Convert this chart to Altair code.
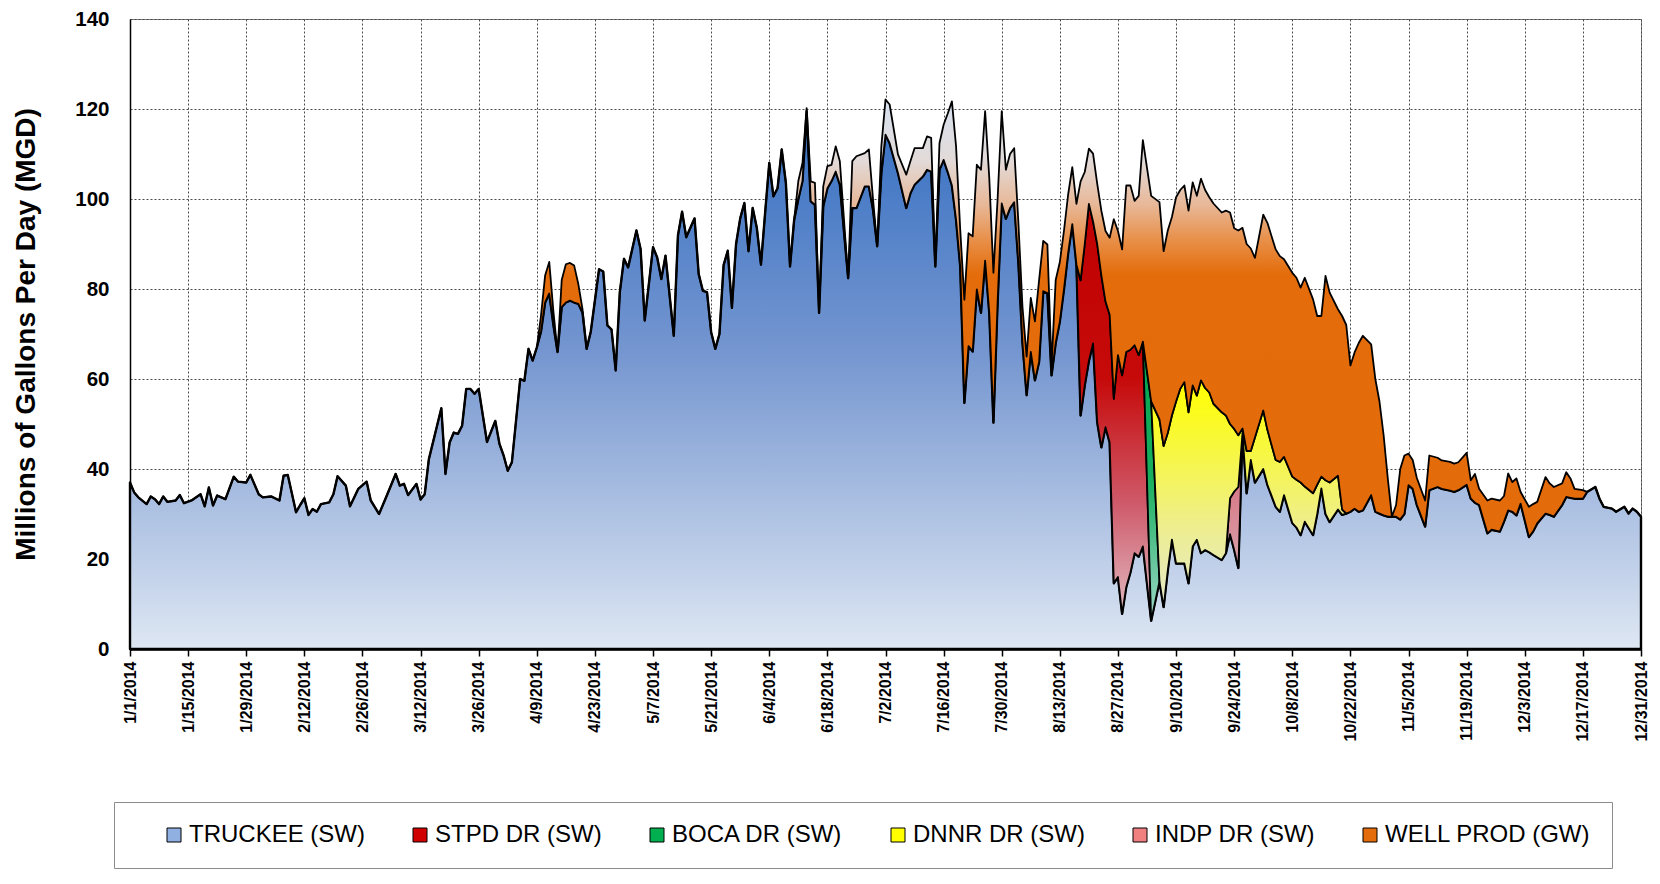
import pandas as pd
import altair as alt

# ---------------- data (day offset from 2014-01-01, values in MGD) ----------------
days = [0, 1, 2, 4, 5, 6, 7, 8, 9, 11, 12, 13, 15, 17, 18, 19, 20, 21, 23, 25, 26, 28, 29, 31, 32, 34, 36, 37, 38,
        40, 41, 42, 43, 44, 45, 46, 48, 49, 50, 52, 53, 55, 57, 58, 60, 62, 64, 65, 66, 67, 69, 70, 71, 72, 75, 76,
        77, 78, 79, 80, 81, 82, 83, 84, 86, 88, 89, 90, 91, 92, 94, 95, 96, 97, 98, 99, 100, 101, 102, 103, 104,
        105, 106, 107, 108, 109, 110, 111, 113, 114, 115, 116, 117, 118, 119, 120, 122, 123, 124, 126, 127, 128,
        129, 131, 132, 133, 134, 136, 137, 138, 139, 140, 141, 142, 143, 144, 145, 146, 147, 148, 149, 150, 151,
        152, 153, 154, 155, 156, 157, 158, 159, 160, 161, 162, 163, 164, 165, 166, 167, 168, 169, 170, 171, 173,
        174, 175, 177, 178, 179, 180, 181, 182, 183, 185, 187, 188, 189, 191, 192, 193, 194, 195, 196, 197, 198,
        199, 200, 201, 202, 203, 204, 205, 206, 207, 208, 209, 210, 211, 212, 213, 214, 215, 216, 217, 218, 219,
        220, 221, 222, 223, 224, 225, 226, 227, 228, 229, 230, 231, 232, 233, 234, 235, 236, 237, 238, 239, 240,
        241, 242, 243, 244, 246, 248, 249, 250, 251, 252, 253, 254, 255, 256, 257, 258, 259, 260, 261, 263, 264,
        265, 266, 267, 268, 269, 270, 271, 273, 274, 276, 277, 278, 280, 281, 282, 283, 285, 286, 287, 288, 289,
        291, 292, 293, 294, 295, 296, 297, 299, 300, 301, 302, 303, 304, 305, 306, 307, 308, 309, 310, 312, 313,
        315, 316, 318, 319, 320, 322, 323, 324, 325, 327, 328, 330, 331, 332, 333, 334, 335, 337, 338, 339, 341,
        342, 343, 345, 346, 347, 348, 350, 351, 353, 354, 355, 357, 358, 360, 361, 362, 363, 364]

truckee = [37.0, 34.8, 33.7, 32.2, 33.9, 33.3, 32.2, 33.9, 32.7, 33.0, 34.2, 32.4, 33.1, 34.4, 31.7, 35.9, 31.9,
           34.1, 33.3, 38.3, 37.2, 37.0, 38.7, 34.4, 33.7, 33.9, 33.0, 38.5, 38.7, 30.4, 32.0, 33.5, 29.8, 31.1,
           30.5, 32.2, 32.6, 34.4, 38.4, 36.3, 31.7, 35.6, 37.2, 33.0, 30.0, 34.4, 38.9, 36.3, 36.7, 34.2, 36.7,
           33.2, 34.4, 42.2, 53.5, 38.9, 45.9, 48.1, 47.8, 49.6, 57.8, 57.8, 56.7, 57.8, 46.0, 50.7, 45.6, 43.0,
           39.6, 41.5, 60.0, 59.6, 66.7, 64.1, 67.0, 70.5, 77.0, 79.0, 72.0, 66.0, 76.0, 77.0, 77.4, 77.0, 76.7,
           74.8, 66.7, 70.5, 84.4, 83.9, 71.9, 71.0, 61.9, 79.3, 86.7, 84.8, 93.0, 88.9, 73.0, 89.3, 87.0, 82.2,
           87.4, 69.6, 91.9, 97.2, 91.5, 95.7, 83.3, 79.6, 79.3, 70.4, 66.7, 70.0, 85.3, 88.5, 75.8, 90.0, 95.7,
           99.1, 88.4, 98.0, 93.6, 85.4, 96.9, 108.0, 100.6, 102.4, 111.0, 103.6, 85.0, 95.4, 100.0, 104.0, 119.5,
           99.5, 98.7, 74.7, 98.4, 102.4, 104.0, 106.1, 103.2, 82.4, 98.0, 98.0, 102.8, 102.8, 97.6, 89.5, 105.8,
           114.3, 112.4, 105.8, 98.0, 101.3, 103.2, 105.0, 106.5, 106.1, 85.0, 106.5, 108.7, 106.0, 103.0, 95.4,
           85.0, 54.7, 67.3, 66.1, 79.9, 74.7, 86.3, 74.7, 50.3, 76.9, 99.0, 95.6, 98.0, 99.3, 86.0, 68.0, 56.4,
           66.0, 59.7, 63.8, 79.5, 79.1, 60.8, 68.0, 72.8, 80.0, 88.0, 94.4, 85.4, 51.9, 58.6, 64.0, 67.9, 50.4,
           44.8, 49.3, 45.9, 14.6, 16.0, 7.8, 13.8, 17.0, 21.3, 20.5, 22.8, 6.3, 15.0, 9.3, 17.5, 24.3, 19.0, 19.0,
           19.0, 14.6, 22.8, 24.3, 21.3, 22.0, 21.5, 20.9, 19.8, 21.3, 25.5, 22.0, 18.0, 48.0, 34.6, 42.0, 37.0,
           40.0, 36.5, 31.6, 30.5, 34.2, 28.0, 27.0, 25.3, 28.3, 25.3, 30.0, 35.7, 30.0, 28.2, 31.0, 29.8, 30.1,
           30.5, 31.2, 30.5, 30.8, 34.2, 30.5, 30.1, 29.7, 29.4, 29.4, 29.4, 28.8, 30.0, 36.4, 35.6, 32.0, 27.2,
           35.3, 36.0, 35.6, 35.2, 34.9, 35.3, 36.5, 33.4, 32.5, 32.0, 25.7, 26.5, 26.1, 28.3, 30.8, 30.5, 29.7,
           32.3, 24.9, 26.1, 27.9, 30.1, 29.8, 29.4, 32.0, 33.8, 33.6, 33.4, 33.4, 34.9, 36.0, 33.4, 31.6, 31.2,
           30.5, 31.6, 30.1, 31.2, 30.5, 29.4]

stpd_days = [229, 230, 231, 232, 233, 234, 235, 236, 237, 238, 239, 240, 241, 242, 243, 244]
stpd = [30.0, 31.4, 34.9, 27.1, 39.6, 38.2, 27.9, 28.4, 41.0, 49.3, 53.0, 52.2, 49.5, 46.2, 44.8, 45.5]

boca_days = [246]
boca = [48.7]

indp_days = [265, 266, 267]
indp = [8.0, 13.0, 18.0]

dnnr_days = [248, 249, 250, 251, 252, 253, 254, 255, 256, 257, 258, 259, 260, 261, 263, 264, 265, 266, 267,
             268, 269, 270, 271, 273, 274, 276, 277, 278, 280, 281, 282, 283, 285, 286, 287, 288, 289, 291, 292]
dnnr = [36.0, 35.8, 30.5, 27.6, 36.0, 38.8, 40.3, 38.0, 35.8, 32.0, 38.4, 36.0, 35.5, 33.6, 32.8, 30.6, 16.5,
        13.9, 11.5, 1.0, 9.4, 2.0, 10.0, 13.0, 12.2, 10.4, 11.1, 8.5, 10.3, 10.6, 11.7, 7.8, 9.3, 6.5, 2.6, 7.5,
        8.8, 7.5, 1.2]

well_days = [99, 100, 101, 102, 104, 105, 106, 107, 108, 109,
             161, 162, 163, 164, 165, 167, 168, 169, 170, 171, 174, 175, 177, 178, 179, 181, 182, 183, 185, 187,
             188, 189, 191, 192, 193, 195, 196, 197, 198, 199, 200, 201, 202, 203, 204, 205, 206, 207, 208, 209,
             210, 211, 212, 213, 214, 215, 216, 217, 218, 219, 220, 221, 222, 223, 224, 225, 226, 227, 228, 229,
             230, 231, 232, 233, 234, 235, 236, 237, 238, 239, 240, 241, 242, 243, 244, 246, 248, 249, 250, 251,
             252, 253, 254, 255, 256, 257, 258, 259, 260, 261, 263, 264, 265, 266, 267, 268, 269, 270, 271, 273,
             274, 276, 277, 278, 280, 281, 282, 283, 285, 286, 287, 288, 289, 291, 292, 293, 294, 295, 296, 297,
             299, 300, 301, 302, 303, 305, 306, 307, 308, 309, 310, 312, 313, 315, 316, 318, 319, 320, 322, 323,
             324, 325, 327, 328, 330, 331, 332, 333, 334, 335, 337, 338, 339, 341, 342, 343, 345, 346, 347, 348,
             350]
well = [3.5, 6.0, 7.0, 3.0, 6.0, 8.5, 8.4, 8.2, 4.4, 0.8,
        4.0, 4.0, 0.7, 4.4, 4.9, 4.4, 4.9, 3.6, 5.6, 5.2, 10.4, 11.5, 7.4, 8.2, 2.3, 5.9, 7.8, 8.6, 4.1, 7.4,
        7.1, 8.1, 6.3, 7.4, 7.5, 5.9, 7.8, 13.0, 18.7, 16.3, 8.2, 22.9, 25.1, 25.6, 27.7, 31.8, 33.2, 30.0, 33.3,
        23.0, 20.5, 10.9, 12.0, 12.0, 9.0, 8.0, 8.6, 12.0, 13.1, 18.2, 11.2, 10.8, 2.2, 14.0, 13.2, 13.0, 13.0,
        12.7, 13.5, 22.0, 16.0, 12.3, 15.1, 13.4, 14.4, 15.7, 17.1, 39.9, 27.6, 28.0, 37.0, 36.5, 32.1, 35.4,
        44.8, 45.7, 48.3, 43.3, 45.0, 44.1, 45.4, 44.2, 43.7, 44.8, 45.1, 44.4, 44.8, 44.0, 43.4, 44.5, 44.4,
        45.5, 47.0, 44.6, 45.5, 44.6, 46.0, 45.0, 39.9, 43.5, 46.0, 46.8, 45.7, 43.9, 45.3, 44.9, 43.3, 46.4,
        43.1, 37.5, 35.7, 45.4, 42.2, 37.0, 43.0, 41.9, 32.5, 34.7, 37.5, 38.8, 33.5, 29.5, 24.9, 17.8, 8.5, 2.6,
        11.2, 13.0, 7.0, 6.4, 6.0, 5.8, 7.7, 6.5, 6.3, 6.4, 6.3, 6.2, 7.1, 4.1, 6.4, 3.6, 7.3, 6.9, 6.9, 5.7,
        8.2, 6.6, 8.2, 2.6, 6.7, 6.1, 4.8, 8.1, 7.0, 6.6, 4.8, 5.5, 4.3, 2.2, 1.9]

tick_dates = ["2014-01-01", "2014-01-15", "2014-01-29", "2014-02-12", "2014-02-26", "2014-03-12", "2014-03-26",
              "2014-04-09", "2014-04-23", "2014-05-07", "2014-05-21", "2014-06-04", "2014-06-18", "2014-07-02",
              "2014-07-16", "2014-07-30", "2014-08-13", "2014-08-27", "2014-09-10", "2014-09-24", "2014-10-08",
              "2014-10-22", "2014-11-05", "2014-11-19", "2014-12-03", "2014-12-17", "2014-12-31"]
y_ticks = [0, 20, 40, 60, 80, 100, 120, 140]

legend_names = ["TRUCKEE (SW)", "STPD DR (SW)", "BOCA DR (SW)", "DNNR DR (SW)", "INDP DR (SW)", "WELL PROD (GW)"]
legend_colors = ["#8fb0e0", "#d00000", "#00b050", "#ffff00", "#f08080", "#e46c0a"]


def grad(stops):
    return alt.Gradient(gradient="linear", x1=0, x2=0, y1=0, y2=1,
                        stops=[alt.GradientStop(offset=o, color=c) for o, c in stops])


# stack order (bottom to top), keep-all-rows flag, fill gradient, stroke width
stack = [
    ("TRUCKEE (SW)", days, truckee, True, grad([(0, "#3670c2"), (0.45, "#7596d0"), (1, "#dee7f3")]), 2.4),
    ("STPD DR (SW)", stpd_days, stpd, False,
     grad([(0, "#c00000"), (0.42, "#c60a0a"), (0.72, "#cf5a6a"), (1, "#e2c0c6")]), 1.8),
    ("BOCA DR (SW)", boca_days, boca, False, grad([(0, "#00a651"), (0.5, "#1aae5e"), (1, "#9ed8c8")]), 1.8),
    ("INDP DR (SW)", indp_days, indp, False, grad([(0, "#d45f70"), (1, "#d9a3ab")]), 1.8),
    ("DNNR DR (SW)", dnnr_days, dnnr, False,
     grad([(0, "#ffff00"), (0.3, "#f7f740"), (0.65, "#eeee90"), (1, "#e4e9c8")]), 1.8),
    ("WELL PROD (GW)", well_days, well, True,
     grad([(0, "#d8e2f1"), (0.14, "#e2dad8"), (0.24, "#e8b898"), (0.32, "#e8904a"), (0.40, "#e46c0a"),
           (1, "#e36b0a")]), 1.8),
]

base_date = pd.Timestamp("2014-01-01")
rows = []
for order, (name, d, v, keep_all, _, _) in enumerate(stack):
    s = pd.Series(v, index=d, dtype=float).reindex(days, fill_value=0.0)
    nz = s > 0
    keep = nz | nz.shift(1, fill_value=False) | nz.shift(-1, fill_value=False)
    for dd, vv, kk in zip(days, s.values, keep.values):
        rows.append({"date": (base_date + pd.Timedelta(days=dd)).strftime("%Y-%m-%d"),
                     "series": name, "order": order, "value": float(vv),
                     "keep": bool(keep_all or kk)})
df = pd.DataFrame(rows)


def dt(s):
    t = pd.Timestamp(s)
    return alt.DateTime(year=t.year, month=t.month, date=t.day)


FONT = "Liberation Sans"
GRID = dict(grid=True, gridColor="#4a4a4a", gridDash=[2, 2], gridWidth=1, gridOpacity=1)

x_enc = alt.X("date:T", title=None,
              scale=alt.Scale(domain=[dt(tick_dates[0]), dt(tick_dates[-1])], nice=False),
              axis=alt.Axis(values=[dt(s) for s in tick_dates], format="%-m/%-d/%Y", labelAngle=270,
                            labelFont=FONT, labelFontWeight="bold", labelFontSize=16, labelColor="black",
                            labelPadding=5, tickSize=7, tickColor="black", tickWidth=1.5,
                            domainColor="black", domainWidth=2.5, labelOverlap=False, labelFlush=False,
                            labelBound=False, **GRID))
y_enc = alt.Y("lo:Q", title="Millions of Gallons Per Day (MGD)",
              scale=alt.Scale(domain=[0, 140], nice=False),
              axis=alt.Axis(values=y_ticks, labelFont=FONT, labelFontWeight="bold", labelFontSize=20.5,
                            labelColor="black", labelPadding=21, tickSize=0, domainColor="black",
                            domainWidth=1.5, titleFont=FONT, titleFontSize=28, titleFontWeight="bold",
                            titleColor="black", titlePadding=34, **GRID))

layers = []
for order, (name, d, v, keep_all, fill, sw) in enumerate(stack):
    layer = (
        alt.Chart()
        .transform_stack(stack="value", groupby=["date"], as_=["lo", "hi"],
                         sort=[alt.SortField(field="order", order="ascending")])
        .transform_filter((alt.datum.series == name) & alt.datum.keep)
        .mark_area(fill=fill, stroke="black", strokeWidth=sw, strokeJoin="round", interpolate="linear")
        .encode(x=x_enc, y=y_enc, y2=alt.Y2("hi:Q"))
    )
    layers.append(layer)

legend_df = pd.DataFrame({"series": legend_names})
legend_layer = (
    alt.Chart(legend_df)
    .mark_square(size=0, opacity=0)
    .encode(color=alt.Color("series:N",
                            scale=alt.Scale(domain=legend_names, range=legend_colors),
                            legend=alt.Legend(orient="none", legendX=-16, legendY=783, direction="horizontal",
                                              columns=6, title=None, symbolType="square", symbolSize=196,
                                              symbolStrokeColor="black", symbolStrokeWidth=1,
                                              symbolOpacity=1, symbolOffset=27, columnPadding=16,
                                              labelFont=FONT, labelFontSize=24, labelColor="black",
                                              labelOffset=3, labelLimit=400, padding=21,
                                              strokeColor="#8c8c8c", fillColor="white")))
)

chart = (
    alt.layer(*layers, legend_layer, data=df)
    .properties(width=1511, height=630, autosize=alt.AutoSizeParams(type="none"),
                padding={"left": 122, "top": 11, "right": 8, "bottom": 221}, background="white")
    .configure_view(stroke="#808080", strokeWidth=1)
)

chart.save("out.html", embed_options={"renderer": "svg", "actions": False})
